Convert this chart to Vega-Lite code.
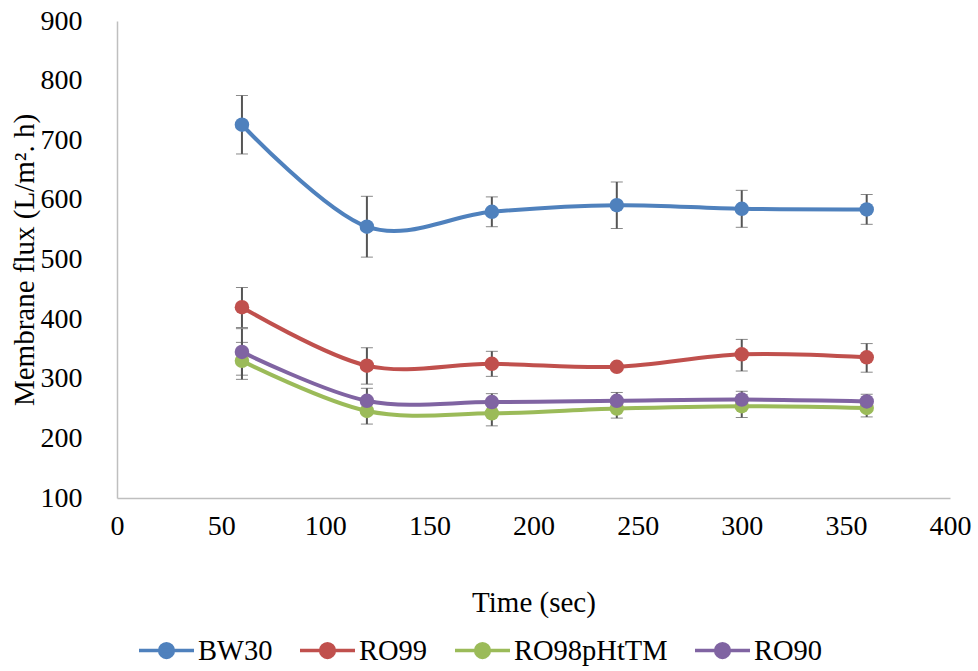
{
  "$schema": "https://vega.github.io/schema/vega-lite/v6.json",
  "width": 833,
  "height": 477,
  "autosize": {"type": "none"},
  "padding": {"left": 117, "top": 21, "right": 28, "bottom": 173},
  "background": "white",
  "config": {
    "font": "Liberation Serif",
    "view": {"stroke": null},
    "axis": {
      "labelFont": "Liberation Serif",
      "titleFont": "Liberation Serif",
      "labelFontSize": 28,
      "titleFontSize": 29,
      "titleFontWeight": "normal",
      "labelColor": "#000000",
      "titleColor": "#000000",
      "grid": false,
      "ticks": false,
      "tickSize": 0,
      "domainColor": "#bfbfbf",
      "domainWidth": 1.5
    },
    "legend": {
      "labelFont": "Liberation Serif",
      "labelFontSize": 28.5,
      "labelColor": "#000000"
    }
  },
  "data": {
    "values": [
      {"membrane": "BW30", "time": 60, "flux": 726, "lo": 677, "hi": 775},
      {"membrane": "BW30", "time": 120, "flux": 555, "lo": 504, "hi": 606},
      {"membrane": "BW30", "time": 180, "flux": 580, "lo": 555, "hi": 605},
      {"membrane": "BW30", "time": 240, "flux": 591, "lo": 552, "hi": 630},
      {"membrane": "BW30", "time": 300, "flux": 585, "lo": 554, "hi": 616},
      {"membrane": "BW30", "time": 360, "flux": 584, "lo": 559, "hi": 609},
      {"membrane": "RO99", "time": 60, "flux": 420, "lo": 386, "hi": 453},
      {"membrane": "RO99", "time": 120, "flux": 322, "lo": 291, "hi": 352},
      {"membrane": "RO99", "time": 180, "flux": 325, "lo": 304, "hi": 346},
      {"membrane": "RO99", "time": 240, "flux": 320, "lo": 316, "hi": 324},
      {"membrane": "RO99", "time": 300, "flux": 341, "lo": 313, "hi": 366},
      {"membrane": "RO99", "time": 360, "flux": 336, "lo": 311, "hi": 359},
      {"membrane": "RO98pHtTM", "time": 60, "flux": 330, "lo": 299, "hi": 361},
      {"membrane": "RO98pHtTM", "time": 120, "flux": 246, "lo": 224, "hi": 268},
      {"membrane": "RO98pHtTM", "time": 180, "flux": 242, "lo": 221, "hi": 263},
      {"membrane": "RO98pHtTM", "time": 240, "flux": 250, "lo": 234, "hi": 266},
      {"membrane": "RO98pHtTM", "time": 300, "flux": 254, "lo": 235, "hi": 273},
      {"membrane": "RO98pHtTM", "time": 360, "flux": 251, "lo": 236, "hi": 266},
      {"membrane": "RO90", "time": 60, "flux": 345, "lo": 306, "hi": 384},
      {"membrane": "RO90", "time": 120, "flux": 263, "lo": 242, "hi": 284},
      {"membrane": "RO90", "time": 180, "flux": 261, "lo": 247, "hi": 275},
      {"membrane": "RO90", "time": 240, "flux": 263, "lo": 249, "hi": 277},
      {"membrane": "RO90", "time": 300, "flux": 265, "lo": 251, "hi": 279},
      {"membrane": "RO90", "time": 360, "flux": 262, "lo": 250, "hi": 274}
    ]
  },
  "encoding": {
    "x": {
      "field": "time",
      "type": "quantitative",
      "scale": {"domain": [0, 400], "nice": false, "zero": false},
      "axis": {
        "title": "Time (sec)",
        "values": [0, 50, 100, 150, 200, 250, 300, 350, 400],
        "labelPadding": 14,
        "titlePadding": 48,
        "labelFlush": false
      }
    },
    "y": {
      "field": "flux",
      "type": "quantitative",
      "title": "Membrane flux (L/m². h)",
      "scale": {"domain": [100, 900], "nice": false, "zero": false},
      "axis": {
        "title": "Membrane flux (L/m². h)",
        "values": [100, 200, 300, 400, 500, 600, 700, 800, 900],
        "labelPadding": 35,
        "titlePadding": 1
      }
    },
    "color": {
      "field": "membrane",
      "type": "nominal",
      "sort": ["BW30", "RO99", "RO98pHtTM", "RO90"],
      "scale": {
        "domain": ["BW30", "RO99", "RO98pHtTM", "RO90"],
        "range": ["#4f81bd", "#c0504d", "#9bbb59", "#8064a2"]
      },
      "legend": {
        "title": null,
        "orient": "none",
        "direction": "horizontal",
        "columns": 4,
        "legendX": 20,
        "legendY": 600,
        "symbolType": "M-1,0L1,0M0.25,0A0.25,0.25,0,1,1,-0.25,0A0.25,0.25,0,1,1,0.25,0",
        "symbolSize": 3025,
        "symbolStrokeWidth": 3.5,
        "labelOffset": 2,
        "columnPadding": 20,
        "encode": {
          "symbols": {
            "update": {
              "fill": {"scale": "color", "field": "value"},
              "stroke": {"scale": "color", "field": "value"},
              "opacity": {"value": 1}
            }
          }
        }
      }
    }
  },
  "layer": [
    {
      "mark": {
        "type": "errorbar",
        "ticks": {"size": 12, "color": "#555555", "strokeWidth": 2},
        "rule": {"color": "#555555", "strokeWidth": 2}
      },
      "encoding": {
        "y": {"field": "lo", "type": "quantitative", "title": "Membrane flux (L/m². h)"},
        "y2": {"field": "hi"},
        "color": null,
        "detail": {"field": "membrane", "type": "nominal"}
      }
    },
    {
      "mark": {"type": "line", "interpolate": "cardinal", "strokeWidth": 4}
    },
    {
      "mark": {"type": "point", "filled": true, "opacity": 1, "size": 210}
    }
  ]
}
